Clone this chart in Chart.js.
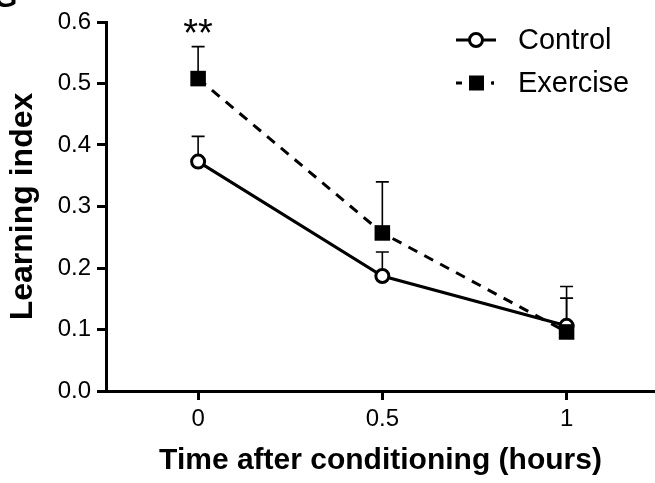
<!DOCTYPE html>
<html>
<head>
<meta charset="utf-8">
<script src="https://cdn.jsdelivr.net/npm/chart.js@4"></script>
<style>
html,body{margin:0;padding:0;background:#fff;}
#wrap{width:655px;height:483px;position:relative;}
</style>
</head>
<body>
<div id="wrap"><canvas id="c" width="655" height="483"></canvas></div>
<script>
// ---- data ----
const timePoints = [0, 0.5, 1];
const controlMean = [0.373, 0.187, 0.106];
const controlErr  = [0.041, 0.039, 0.064];
const exerciseMean = [0.508, 0.257, 0.096];
const exerciseErr  = [0.052, 0.083, 0.055];
const seriesLabels = ['Control', 'Exercise'];
const xTickValues = [0, 0.5, 1];
const xTickLabels = ['0', '0.5', '1'];
const yTickValues = [0, 0.1, 0.2, 0.3, 0.4, 0.5, 0.6];
const yTickLabels = ['0.0', '0.1', '0.2', '0.3', '0.4', '0.5', '0.6'];
const significance = [{x: 0, y: 0.56, text: '**'}];
const xTitle = 'Time after conditioning (hours)';
const yTitle = 'Learning index';

const FONT = '"Liberation Sans", Arial, Helvetica, sans-serif';

const errorBars = {
  id: 'errorBars',
  beforeDatasetsDraw(chart) {
    const ctx = chart.ctx;
    const xs = chart.scales.x, ys = chart.scales.y;
    chart.data.datasets.forEach(ds => {
      ds.data.forEach((p, i) => {
        const e = ds.errors[i];
        const px = xs.getPixelForValue(p.x);
        const y0 = ys.getPixelForValue(p.y);
        const y1 = ys.getPixelForValue(p.y + e);
        ctx.save();
        ctx.strokeStyle = '#000';
        ctx.lineWidth = 1.6;
        ctx.beginPath();
        ctx.moveTo(px, y0); ctx.lineTo(px, y1);
        ctx.moveTo(px - 6.5, y1); ctx.lineTo(px + 6.5, y1);
        ctx.stroke();
        ctx.restore();
      });
    });
  },
  afterDraw(chart) {
    const ctx = chart.ctx;
    const xs = chart.scales.x, ys = chart.scales.y;
    ctx.save();
    // significance stars
    ctx.fillStyle = '#000';
    ctx.font = '38px ' + FONT;
    ctx.textAlign = 'center';
    ctx.textBaseline = 'alphabetic';
    significance.forEach(s => {
      ctx.fillText(s.text, xs.getPixelForValue(s.x), ys.getPixelForValue(s.y) - 1);
    });
    // partial panel letter
    ctx.font = 'bold 30px ' + FONT;
    ctx.textAlign = 'left';
    ctx.fillText('G', -6, 7);
    // legend
    const items = [
      {label: seriesLabels[0], y: 40, dash: [], style: 'circle'},
      {label: seriesLabels[1], y: 83, dash: [6, 10], style: 'rect'}
    ];
    items.forEach(it => {
      ctx.strokeStyle = '#000';
      ctx.lineWidth = 3;
      ctx.setLineDash(it.dash);
      ctx.beginPath();
      ctx.moveTo(456, it.y); ctx.lineTo(496, it.y);
      ctx.stroke();
      ctx.setLineDash([]);
      if (it.style === 'circle') {
        ctx.beginPath();
        ctx.arc(476, it.y, 6.5, 0, Math.PI * 2);
        ctx.fillStyle = '#fff';
        ctx.fill();
        ctx.lineWidth = 3;
        ctx.stroke();
      } else {
        ctx.fillStyle = '#fff';
        ctx.fillRect(462, it.y - 9, 30, 18);
        ctx.fillStyle = '#000';
        ctx.fillRect(469, it.y - 7.5, 15, 15);
        ctx.fillRect(491, it.y - 1.5, 3, 3);
      }
      ctx.fillStyle = '#000';
      ctx.font = '29px ' + FONT;
      ctx.textAlign = 'left';
      ctx.textBaseline = 'middle';
      ctx.fillText(it.label, 518, it.y + 1);
    });
    ctx.restore();
  }
};

const mk = (xs, ys) => xs.map((x, i) => ({x: x, y: ys[i]}));

new Chart(document.getElementById('c'), {
  type: 'line',
  data: {
    datasets: [
      {
        label: seriesLabels[0],
        data: mk(timePoints, controlMean),
        errors: controlErr,
        borderColor: '#000',
        borderWidth: 3,
        pointStyle: 'circle',
        pointRadius: 6.5,
        pointBorderWidth: 3,
        pointBackgroundColor: '#fff',
        pointBorderColor: '#000',
        order: 1,
        tension: 0,
        clip: false
      },
      {
        label: seriesLabels[1],
        data: mk(timePoints, exerciseMean),
        errors: exerciseErr,
        borderColor: '#000',
        borderWidth: 3,
        borderDash: [10, 8],
        pointStyle: 'rect',
        pointRadius: 11,
        pointBorderWidth: 0,
        pointBackgroundColor: '#000',
        pointBorderColor: '#000',
        order: 0,
        tension: 0,
        clip: false
      }
    ]
  },
  options: {
    responsive: false,
    animation: false,
    layout: {autoPadding: false, padding: {top: 22, right: 0, left: 0, bottom: 0}},
    plugins: {legend: {display: false}, tooltip: {enabled: false}},
    scales: {
      x: {
        type: 'linear',
        min: -0.25, max: 1.24,
        afterBuildTicks: s => { s.ticks = xTickValues.map(v => ({value: v})); },
        afterFit: s => { s.height = 92; },
        ticks: {
          color: '#000',
          font: {family: FONT, size: 24},
          padding: 5,
          maxRotation: 0,
          callback: (v) => xTickLabels[xTickValues.indexOf(v)]
        },
        grid: {display: true, drawOnChartArea: false, drawTicks: true, tickLength: 9, color: '#000', lineWidth: 3},
        border: {display: true, color: '#000', width: 3},
        title: {display: true, text: xTitle, color: '#000', font: {family: FONT, size: 30, weight: 'bold'}, padding: {top: 2}}
      },
      y: {
        min: 0, max: 0.6,
        afterBuildTicks: s => { s.ticks = yTickValues.map(v => ({value: v})); },
        afterFit: s => { s.width = 106; },
        ticks: {
          color: '#000',
          font: {family: FONT, size: 24},
          padding: 6,
          callback: (v) => yTickLabels[yTickValues.indexOf(v)]
        },
        grid: {display: true, drawOnChartArea: false, drawTicks: true, tickLength: 9, color: '#000', lineWidth: 3},
        border: {display: true, color: '#000', width: 3},
        title: {display: true, text: yTitle, color: '#000', font: {family: FONT, size: 32, weight: 'bold'}, padding: {bottom: 2}}
      }
    }
  },
  plugins: [errorBars]
});
</script>
</body>
</html>
